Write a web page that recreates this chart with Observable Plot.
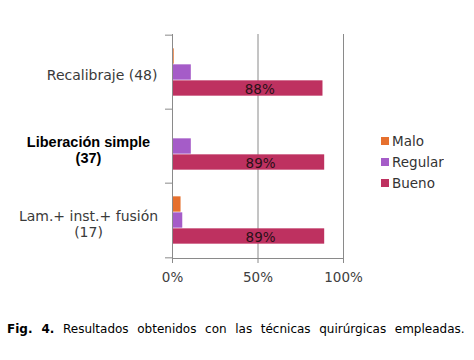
<!DOCTYPE html>
<html>
<head>
<meta charset="utf-8">
<script src="https://cdn.jsdelivr.net/npm/d3@7"></script>
<script src="https://cdn.jsdelivr.net/npm/@observablehq/plot@0.6"></script>
<style>
  html, body { margin: 0; padding: 0; background: #fff; }
  #wrap { position: relative; width: 474px; height: 360px; }
  #chart svg { display: block; }
  g[aria-label^="x-axis"] text { fill: #404040; }
  #legend { position: absolute; left: 381px; top: 130px; }
  #legend .lg-swatch { font: 13.5px "DejaVu Sans", sans-serif; color: #333; height: 21px; display: flex; align-items: center; margin: 0; padding: 0; }
  #legend .lg-swatch svg { margin-right: 3px; }
  #caption { position: absolute; left: 7px; top: 322px; font: 12px "DejaVu Sans", Verdana, sans-serif; color: #000; word-spacing: 4.8px; white-space: nowrap; }
</style>
</head>
<body>
<div id="wrap">
  <div id="chart"></div>
  <div id="legend"></div>
  <div id="caption"><b>Fig. 4.</b> Resultados obtenidos con las técnicas quirúrgicas empleadas.</div>
</div>
<script>
const categories = ["Recalibraje (48)", "Liberación simple (37)", "Lam.+ inst.+ fusión (17)"];
const categoryLines = ["Recalibraje (48)", "Liberación simple\n(37)", "Lam.+ inst.+ fusión\n(17)"];
const categoryBold = [false, true, false];
const series = ["Malo", "Regular", "Bueno"];
const colors = ["#E6702E", "#A55CC8", "#BE3160"];
const malo = [1, 0, 5];
const regular = [11, 11, 6];
const bueno = [88, 89, 89];
const xTicks = [0, 50, 100];

const values = [malo, regular, bueno];
const rows = [];
series.forEach((s, j) => categories.forEach((c, i) => rows.push({category: c, series: s, value: values[j][i], j, i})));

const W = 474, H = 300, mTop = 34, mBottom = 42, mLeft = 172, mRight = 131;
const bw = (H - mTop - mBottom) / categories.length;
const barH = 16;
const inset = (bw - barH) / 2;
const grid = "#8a8a8a";

const marks = [
  Plot.ruleX([50, 100], {stroke: grid, strokeWidth: 1}),
  ...series.map((s, j) => Plot.barX(rows.filter(d => d.series === s), {
    y: "category", x: "value", fill: colors[j],
    insetTop: inset, insetBottom: inset, dy: (j - 1) * barH
  })),
  Plot.text(rows.filter(d => d.series === "Bueno"), {
    y: "category", x: d => d.value / 2, text: d => d.value + "%",
    dy: barH + 1, dx: 12, fill: "#2a1018", fontSize: 13.5, fontFamily: "DejaVu Sans"
  }),
  Plot.ruleX([0], {stroke: grid, strokeWidth: 1}),
  Plot.ruleY(categories, {y: d => d, x1: 0, x2: 0, insetLeft: -7, dy: -bw / 2, stroke: grid}),
  Plot.ruleY(categories.slice(-1), {y: d => d, x1: 0, x2: 0, insetLeft: -7, dy: bw / 2, stroke: grid}),
  ...categories.map((c, i) => Plot.text([c], {
    y: d => d, text: () => categoryLines[i], frameAnchor: "left",
    textAnchor: i === 0 ? "end" : "middle",
    dx: i === 0 ? -15 : -84,
    dy: i === 0 ? 2 : 3,
    lineHeight: 1.15,
    fontSize: categoryBold[i] ? 14.5 : 14,
    fontWeight: categoryBold[i] ? "bold" : "normal",
    fontFamily: categoryBold[i] ? "Liberation Sans" : "DejaVu Sans",
    fill: categoryBold[i] ? "#000" : "#3a3a3a"
  }))
];

const chart = Plot.plot({
  width: W, height: H,
  marginTop: mTop, marginBottom: mBottom, marginLeft: mLeft, marginRight: mRight,
  style: {fontFamily: "DejaVu Sans", fontSize: "13.5px", color: grid, background: "#fff"},
  x: {domain: [0, 100], ticks: xTicks, tickFormat: d => d + "%", tickSize: 5, tickPadding: 9, line: true, label: null},
  y: {domain: categories, axis: null, padding: 0},
  marks
});
document.getElementById("chart").appendChild(chart);

const legend = Plot.legend({
  color: {domain: series, range: colors, type: "ordinal"},
  legend: "swatches", swatchSize: 8, columns: 1, className: "lg"
});
document.getElementById("legend").appendChild(legend);
</script>
</body>
</html>
